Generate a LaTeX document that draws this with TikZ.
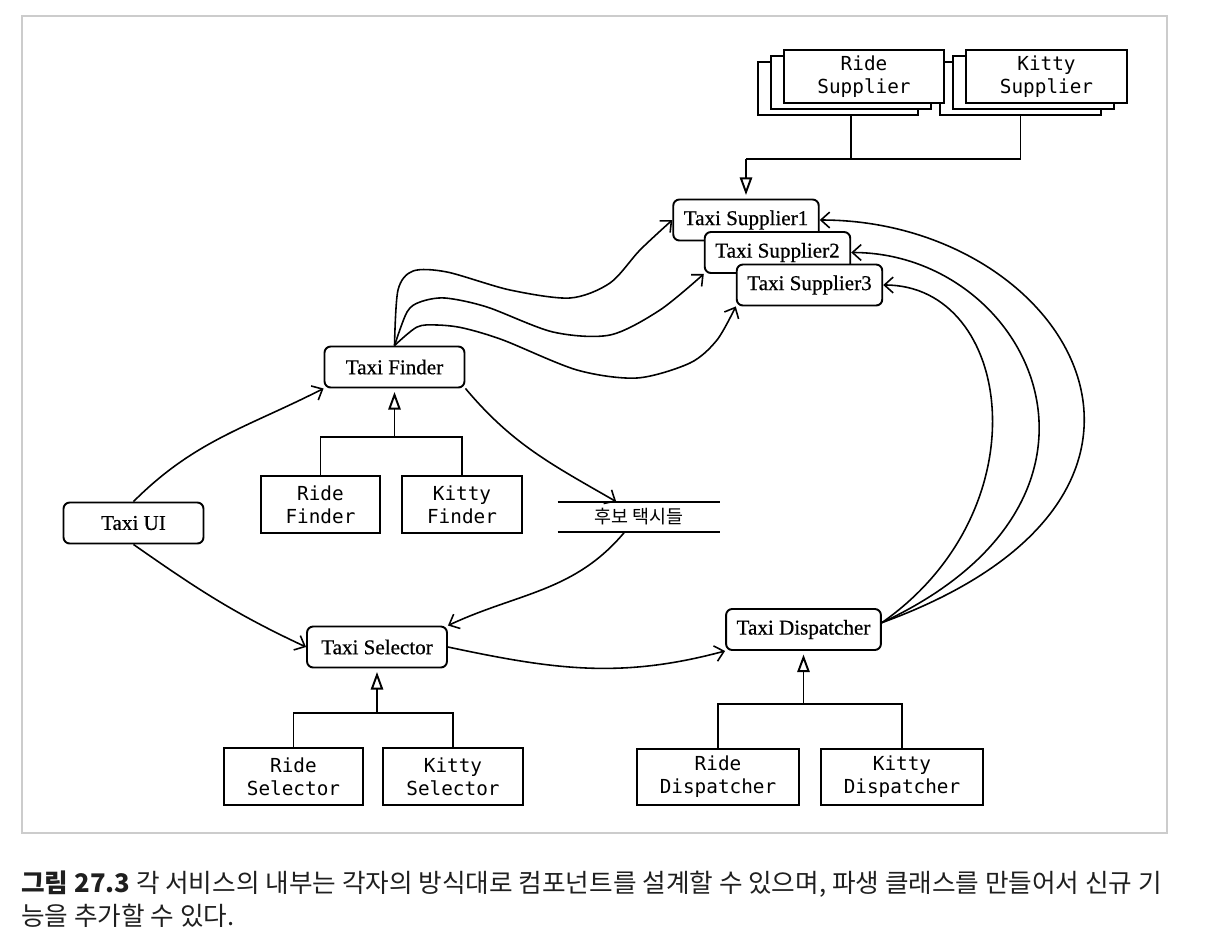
\documentclass[tikz,border=0pt]{standalone}
\usepackage{fontspec}
\setmainfont{Liberation Serif}
\newfontface\compfont{Liberation Serif}[FakeBold=0.6]
\newfontfamily\codefont{DejaVu Sans Mono}
\newfontfamily\krfont{Noto Sans CJK KR}
\usetikzlibrary{arrows.meta,calc}
\begin{document}
\begin{tikzpicture}[x=0.02cm,y=-0.02cm,
    comp/.style={draw,line width=1.1pt,rounded corners=3.5pt,fill=white,minimum width=2.8cm,minimum height=0.82cm,inner xsep=6pt,font=\compfont\fontsize{12}{14}\selectfont},
    cls/.style={draw,line width=1.1pt,fill=white,minimum height=1.13cm,align=center,font=\codefont\fontsize{11}{13}\selectfont},
    tree/.style={line width=1.1pt},
    inherit/.style={line width=1.1pt,-{Triangle[open,length=10pt,width=7pt]},shorten >=2pt},
    flow/.style={line width=0.9pt,-{Straight Barb[length=5pt,width=9pt]}}]
  \useasboundingbox (0,0) rectangle (1208,944);
  \draw[black!20,line width=0.8pt] (22,16) rectangle (1167,833);
  \def \Comps{
    sup1/746/220/Taxi Supplier1,
    sup2/777.5/252.5/Taxi Supplier2,
    sup3/809.5/285/Taxi Supplier3,
    finder/394.5/367/Taxi Finder,
    ui/133.5/523/Taxi UI,
    selector/377/647/Taxi Selector,
    dispatcher/803.5/629.5/Taxi Dispatcher}
  \def \Classes{
    rfinder/320.5/504.5/2.38/Ride\\Finder,
    kfinder/462/504.5/2.4/Kitty\\Finder,
    rselector/293.5/776.5/2.78/Ride\\Selector,
    kselector/453/776.5/2.8/Kitty\\Selector,
    rdisp/718/777/3.24/Ride\\Dispatcher,
    kdisp/902/777/3.24/Kitty\\Dispatcher}
  \def \Flows{
    ui.north/finder.south west/45/207,
    ui.south/selector.west/-35/155,
    finder.south east/storein/-50/150,
    storeout/selector.north east/230/25,
    selector.east/dispatcher.south west/-12/195}
  \foreach \id / \x / \w / \t in {ksup/1046.5/3.22/Kitty, rsup/864/3.2/Ride}{
    \foreach \s in {2,1}
      \node[cls,minimum width=\w cm,minimum height=1.06cm] (\id\s) at (\x-13*\s, 76.5+6*\s) {};
    \node[cls,minimum width=\w cm,minimum height=1.06cm] (\id) at (\x, 76.5) {\t\\Supplier};
  }
  \foreach \id / \x / \y / \t in \Comps{
    \node[comp] (\id) at (\x, \y) {\t};
  }
  \foreach \id / \x / \y / \w / \t in \Classes{
    \node[cls,minimum width=\w cm] (\id) at (\x, \y) {\t};
  }
  \node[font=\krfont\fontsize{10.5}{12}\selectfont,minimum width=3.24cm,minimum height=0.6cm] (store) at (639,517) {후보 택시들};
  \draw[tree] (store.north west) -- (store.north east) (store.south west) -- (store.south east);
  \coordinate (storein) at ($(store.north west)!.36!(store.north east)$);
  \coordinate (storeout) at ($(store.south west)!.41!(store.south east)$);
  \coordinate (sbar) at (744,159);
  \draw[tree] (rsup1.south |- rsup2.south) -- (rsup1.south |- sbar);
  \draw[tree] (ksup2.south) |- (sup1.north |- sbar);
  \draw[inherit] (sup1.north |- sbar) -- (sup1.north);
  \foreach \p / \a / \b / \y in {finder/rfinder/kfinder/437, selector/rselector/kselector/713, dispatcher/rdisp/kdisp/704}{
    \draw[tree] (\a.north) -- (\a.north |- 0,\y) -- (\b.north |- 0,\y) -- (\b.north);
    \draw[inherit] (\p.south |- 0,\y) -- (\p.south);
  }
  \foreach \a / \b / \o / \i in \Flows{
    \draw[flow] (\a) to[out=\o,in=\i] (\b);
  }
  \draw[flow] plot[smooth] coordinates {(finder.north) (398,290) (413,271) (447,272) (510,290) (570,298) (610,283) (640,250) (sup1.west)};
  \draw[flow] plot[smooth] coordinates {(finder.north) (407,312) (420,302) (445,298) (487,307) (553,332) (610,335) (660,310) (sup2.south west)};
  \draw[flow] plot[smooth] coordinates {(finder.north) (417,327) (437,325) (463,328) (503,340) (577,370) (637,378) (690,363) (717,340) (sup3.south west)};
  \foreach \s / \o / \lo / \li in {sup1/20/2.36/1.55, sup2/25/2.05/1.23, sup3/35/1.5/0.98}{
    \draw[flow] (dispatcher.5) to[out=\o,in=0,out looseness=\lo,in looseness=\li] (\s.east);
  }
  \node[anchor=west,inner sep=0pt,align=left,text=black!88,font=\krfont\fontsize{14.6}{19}\selectfont] (caption) at (21,899) {{\bfseries 그림 27.3} 각 서비스의 내부는 각자의 방식대로 컴포넌트를 설계할 수 있으며, 파생 클래스를 만들어서 신규 기\\능을 추가할 수 있다.};
\end{tikzpicture}
\end{document}
